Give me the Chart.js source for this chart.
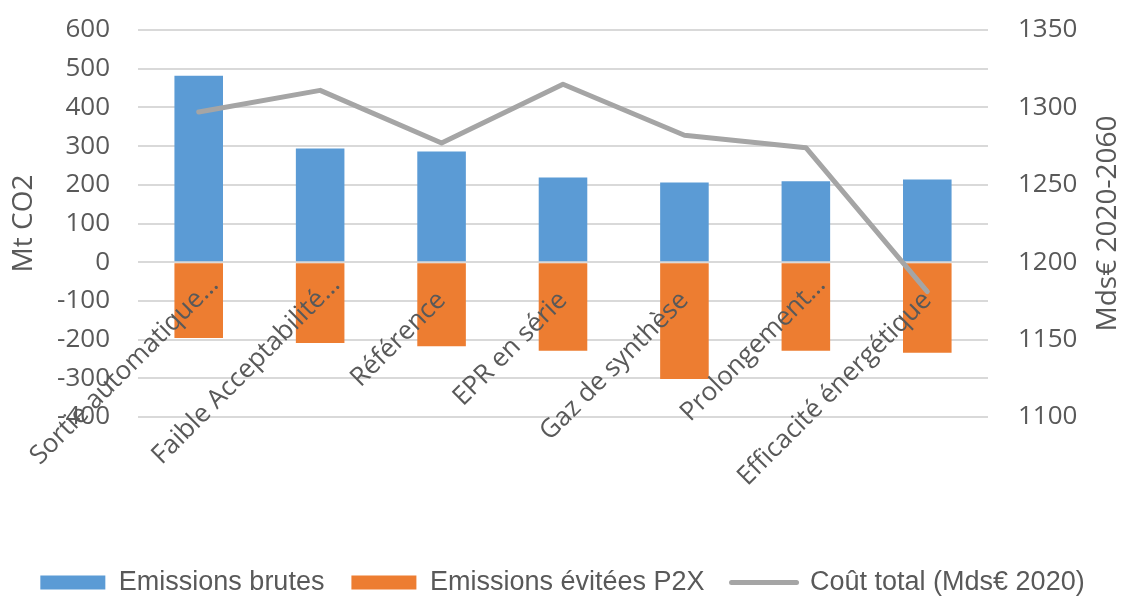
<!DOCTYPE html>
<html>
<head>
<meta charset="utf-8">
<script src="https://cdn.jsdelivr.net/npm/chart.js@4"></script>
<style>
  body { margin: 0; background: #fff; }
</style>
</head>
<body>
<canvas id="chart" width="1125" height="597"></canvas>
<script>
// data
const categories = ["Sortie automatique…", "Faible Acceptabilité…", "Référence", "EPR en série", "Gaz de synthèse", "Prolongement…", "Efficacité énergétique"];
const emissionsBrutes = [482, 294, 286, 219, 206, 209, 214];
const emissionsEvitees = [-196, -209, -217, -229, -302, -229, -234];
const coutTotal = [1297, 1311, 1277, 1315, 1282, 1274, 1181];
const leftTicks = [-400, 600, 100];   // min, max, step
const rightTicks = [1100, 1350, 50];

const textColor = "#595959";
const tickFont = { family: "'Open Sans', sans-serif", size: 26 };

// category labels sit on the zero line, rotated like Excel does
const categoryLabels = {
  id: "categoryLabels",
  afterDatasetsDraw(chart) {
    const { ctx, scales } = chart;
    const zeroY = scales.y.getPixelForValue(0);
    ctx.save();
    ctx.fillStyle = textColor;
    ctx.font = "26px 'Open Sans', sans-serif";
    ctx.textAlign = "right";
    ctx.textBaseline = "middle";
    categories.forEach((label, i) => {
      const x = scales.x.getPixelForValue(i);
      const shift = label.endsWith("…") ? 22 : 0;
      ctx.save();
      ctx.translate(x, zeroY + 34);
      ctx.rotate(-Math.PI / 4);
      ctx.fillText(label, shift, 0);
      ctx.restore();
    });
    // right axis title reads bottom to top
    const area = chart.chartArea;
    ctx.font = "28px 'Open Sans', sans-serif";
    ctx.textAlign = "center";
    ctx.translate(1108, (area.top + area.bottom) / 2);
    ctx.rotate(-Math.PI / 2);
    ctx.fillText("Mds€ 2020-2060", 0, 0);
    ctx.restore();
  }
};

// tick padding would otherwise push the plot area down
function noVerticalPadding(scale) {
  scale.paddingTop = 0;
  scale.paddingBottom = 0;
}

const ctx = document.getElementById("chart").getContext("2d");
new Chart(ctx, {
  type: "bar",
  data: {
    labels: categories,
    datasets: [
      {
        label: "Emissions brutes",
        data: emissionsBrutes,
        backgroundColor: "#5b9bd5",
        yAxisID: "y",
        order: 1
      },
      {
        label: "Emissions évitées P2X",
        data: emissionsEvitees,
        backgroundColor: "#ed7d31",
        yAxisID: "y",
        order: 1
      },
      {
        type: "line",
        label: "Coût total (Mds€ 2020)",
        data: coutTotal,
        borderColor: "#a5a5a5",
        backgroundColor: "#a5a5a5",
        borderWidth: 5,
        pointRadius: 0,
        tension: 0,
        borderCapStyle: "round",
        borderJoinStyle: "round",
        yAxisID: "y1",
        order: 0
      }
    ]
  },
  options: {
    responsive: false,
    animation: false,
    categoryPercentage: 1,
    barPercentage: 0.4,
    layout: { padding: { top: 30, bottom: -9, left: 0, right: 0 } },
    plugins: {
      tooltip: { enabled: false },
      legend: {
        position: "bottom",
        labels: {
          color: textColor,
          font: { family: "'Liberation Sans', Arial, sans-serif", size: 27 },
          usePointStyle: true,
          pointStyleWidth: 65,
          boxHeight: 14,
          padding: 27,
          generateLabels(chart) {
            const items = Chart.defaults.plugins.legend.labels.generateLabels(chart);
            items.sort((a, b) => a.datasetIndex - b.datasetIndex);
            return items.map(item => {
              const isLine = item.datasetIndex === 2;
              return Object.assign(item, {
                pointStyle: isLine ? "line" : "rect",
                lineWidth: isLine ? 5 : 0,
                lineCap: "round",
                fontColor: textColor
              });
            });
          }
        }
      }
    },
    scales: {
      x: {
        stacked: true,
        grid: { display: false },
        border: { display: false },
        ticks: { display: false },
        afterFit(scale) { scale.height = 125; }
      },
      y: {
        stacked: true,
        position: "left",
        min: leftTicks[0],
        max: leftTicks[1],
        ticks: { stepSize: leftTicks[2], color: textColor, font: tickFont, padding: 28 },
        grid: { color: "#d9d9d9", lineWidth: 2, drawTicks: false },
        border: { display: false },
        title: {
          display: true,
          text: "Mt CO2",
          color: textColor,
          font: { family: "'Open Sans', sans-serif", size: 28 },
          padding: { top: 7, bottom: 0 }
        },
        afterFit(scale) { scale.width = 138; noVerticalPadding(scale); }
      },
      y1: {
        position: "right",
        min: rightTicks[0],
        max: rightTicks[1],
        ticks: {
          stepSize: rightTicks[2], color: textColor, font: tickFont, padding: 30,
          callback: v => String(v)
        },
        grid: { display: false, drawTicks: false },
        border: { display: false },
        afterFit(scale) { scale.width = 137; noVerticalPadding(scale); }
      }
    }
  },
  plugins: [categoryLabels]
});
</script>
</body>
</html>
